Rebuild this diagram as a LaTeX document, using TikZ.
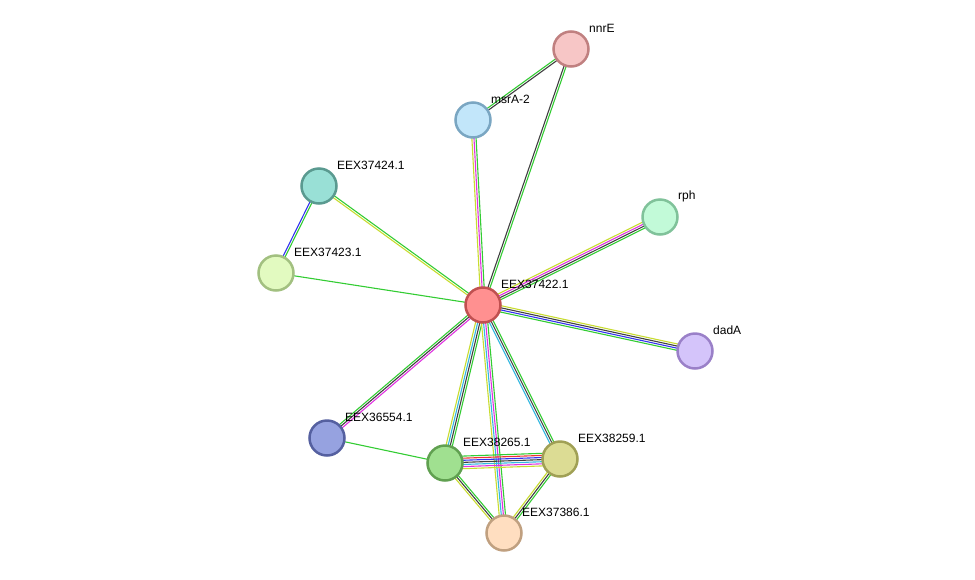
\documentclass[tikz,border=0pt]{standalone}
\usepackage{fontspec}
\setmainfont{Liberation Sans}
\usetikzlibrary{calc}
\definecolor{eg}{HTML}{33CC33}
\definecolor{ek}{HTML}{404040}
\definecolor{em}{HTML}{E033E0}
\definecolor{ey}{HTML}{C8DC30}
\definecolor{eb}{HTML}{3333EE}
\definecolor{ec}{HTML}{33B8E0}
\definecolor{er}{HTML}{EE3333}
\newcommand{\pedge}[3]{%
  \foreach \col [count=\i] in {#3} {\global\let\nn\i}%
  \foreach \col [count=\i] in {#3} {%
    \pgfmathsetmacro{\off}{(\i-(\nn+1)/2)*2.1}%
    \draw[draw=\col,line width=1.1pt] ($(#1)!\off pt!90:(#2)$) -- ($(#2)!\off pt!-90:(#1)$);}}
\tikzset{prot/.style={circle,minimum size=35pt,inner sep=0pt,line width=2.5pt},
  lab/.style={anchor=west,font=\fontsize{12}{12}\selectfont,inner sep=0pt}}
\begin{document}
\begin{tikzpicture}[x=1pt,y=-1pt]
\useasboundingbox (0,0) rectangle (975,579);
\coordinate (nnrE) at (571,49);
\coordinate (msrA) at (473,120);
\coordinate (a424) at (319,186);
\coordinate (rph) at (660,217);
\coordinate (a423) at (276,273);
\coordinate (a422) at (483,305);
\coordinate (dadA) at (695,351);
\coordinate (a554) at (327,438);
\coordinate (a265) at (445,463);
\coordinate (a259) at (560,459);
\coordinate (a386) at (504,533);
\pedge{nnrE}{msrA}{eg,ek}
\pedge{nnrE}{a422}{ek,eg}
\pedge{msrA}{a422}{ey,em,eg}
\pedge{a424}{a423}{eb,eg}
\pedge{a424}{a422}{ey,eg}
\pedge{a423}{a422}{eg}
\pedge{rph}{a422}{ey,em,ek,eg}
\pedge{dadA}{a422}{ey,ek,eb,eg}
\pedge{a554}{a422}{em,ek,eg}
\pedge{a554}{a265}{eg}
\pedge{a422}{a265}{ey,ec,ek,eg}
\pedge{a422}{a386}{ey,ec,em,eg}
\pedge{a422}{a259}{ec,ek,eg}
\pedge{a265}{a259}{ey,em,ec,ek,eb,er,eg}
\pedge{a265}{a386}{ey,ek,eg}
\pedge{a259}{a386}{ey,ek,eg}
\node[prot,fill={rgb,255:red,247;green,198;blue,198},draw={rgb,255:red,192;green,128;blue,128}] (n1) at (nnrE) {};
\node[prot,fill={rgb,255:red,194;green,230;blue,250},draw={rgb,255:red,122;green,166;blue,194}] (n2) at (msrA) {};
\node[prot,fill={rgb,255:red,153;green,224;blue,214},draw={rgb,255:red,90;green,154;blue,144}] (n3) at (a424) {};
\node[prot,fill={rgb,255:red,194;green,250;blue,216},draw={rgb,255:red,128;green,194;blue,154}] (n4) at (rph) {};
\node[prot,fill={rgb,255:red,226;green,250;blue,192},draw={rgb,255:red,162;green,192;blue,128}] (n5) at (a423) {};
\node[prot,fill={rgb,255:red,255;green,144;blue,144},draw={rgb,255:red,192;green,80;blue,80}] (n6) at (a422) {};
\node[prot,fill={rgb,255:red,212;green,196;blue,250},draw={rgb,255:red,154;green,128;blue,200}] (n7) at (dadA) {};
\node[prot,fill={rgb,255:red,150;green,162;blue,224},draw={rgb,255:red,85;green,96;blue,160}] (n8) at (a554) {};
\node[prot,fill={rgb,255:red,160;green,224;blue,144},draw={rgb,255:red,96;green,160;blue,80}] (n9) at (a265) {};
\node[prot,fill={rgb,255:red,220;green,220;blue,148},draw={rgb,255:red,160;green,160;blue,85}] (n10) at (a259) {};
\node[prot,fill={rgb,255:red,255;green,222;blue,192},draw={rgb,255:red,192;green,160;blue,128}] (n11) at (a386) {};
\node[lab] (l1) at ($(nnrE)+(18,-21)$) {nnrE};
\node[lab] (l2) at ($(msrA)+(18,-21)$) {msrA-2};
\node[lab] (l3) at ($(a424)+(18,-21)$) {EEX37424.1};
\node[lab] (l4) at ($(rph)+(18,-21)$) {rph};
\node[lab] (l5) at ($(a423)+(18,-21)$) {EEX37423.1};
\node[lab] (l6) at ($(a422)+(18,-21)$) {EEX37422.1};
\node[lab] (l7) at ($(dadA)+(18,-21)$) {dadA};
\node[lab] (l8) at ($(a554)+(18,-21)$) {EEX36554.1};
\node[lab] (l9) at ($(a265)+(18,-21)$) {EEX38265.1};
\node[lab] (l10) at ($(a259)+(18,-21)$) {EEX38259.1};
\node[lab] (l11) at ($(a386)+(18,-21)$) {EEX37386.1};
\end{tikzpicture}
\end{document}
